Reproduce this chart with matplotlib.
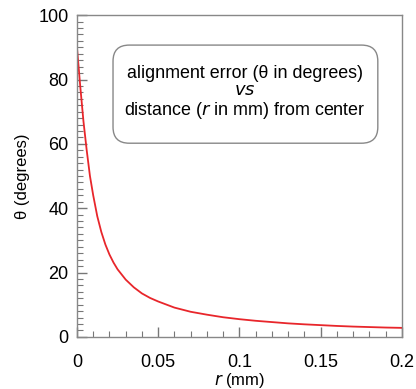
import matplotlib
matplotlib.use("Agg")
import matplotlib.pyplot as plt
from matplotlib.ticker import MultipleLocator
from matplotlib.patches import FancyBboxPatch

plt.rcParams['font.family'] = ['Liberation Sans', 'DejaVu Sans']

r_mm = [0, 0.001, 0.002, 0.003, 0.004, 0.005, 0.006, 0.007, 0.008, 0.009,
        0.010, 0.0125, 0.015, 0.0175, 0.020, 0.0225, 0.025, 0.030, 0.035,
        0.040, 0.045, 0.050, 0.060, 0.070, 0.080, 0.090, 0.100, 0.110,
        0.120, 0.130, 0.140, 0.150, 0.160, 0.170, 0.180, 0.190, 0.200]
theta_deg = [90, 84, 78, 72.5, 67, 62.5, 58, 54, 50, 47,
             44, 37.5, 32.6, 28.7, 25.6, 23.1, 21.0, 17.8, 15.4,
             13.5, 12.1, 11.0, 9.1, 7.8, 6.9, 6.1, 5.5, 5.0,
             4.6, 4.2, 3.9, 3.65, 3.4, 3.2, 3.05, 2.9, 2.8]

xticks = [0, 0.05, 0.1, 0.15, 0.2]
xticklabels = ['0', '0.05', '0.1', '0.15', '0.2']
yticks = [0, 20, 40, 60, 80, 100]
box_text = "alignment error (\u03b8 in degrees)\n$\\it{vs}$\ndistance ($\\it{r}$ in mm) from center"

fig = plt.figure(figsize=(4.16, 3.89), dpi=100)
ax = fig.add_axes([0.185, 0.134, 0.781, 0.827])
ax.plot(r_mm, theta_deg, color='#e8262b', lw=1.3)
ax.set_xlim(0, 0.2)
ax.set_ylim(0, 100)
ax.set_xticks(xticks)
ax.set_xticklabels(xticklabels)
ax.set_yticks(yticks)
ax.xaxis.set_minor_locator(MultipleLocator(0.01))
ax.yaxis.set_minor_locator(MultipleLocator(2))
ax.tick_params(which='both', direction='in', color='#777777', labelsize=13,
               labelcolor='#000000')
ax.tick_params(which='major', length=7, width=1)
ax.tick_params(which='minor', length=4, width=0.8)
ax.tick_params(axis='x', pad=12)
ax.tick_params(axis='y', pad=6)
for s in ax.spines.values():
    s.set_color('#888888')
    s.set_linewidth(1.0)
ax.set_xlabel('$\\it{r}$ (mm)', fontsize=12, labelpad=0, color='#000000')
ax.set_ylabel('\u03b8 (degrees)', fontsize=12, labelpad=6, color='#000000')

box = FancyBboxPatch((0.111, 0.602), 0.815, 0.305, transform=ax.transAxes,
                     boxstyle='round,pad=0,rounding_size=0.05',
                     fc='white', ec='#888888', lw=1.0, mutation_aspect=1.0)
ax.add_patch(box)
ax.text(0.517, 0.758, box_text, transform=ax.transAxes, ha='center', va='center',
        fontsize=12.9, linespacing=1.05, color='#000000')

fig.savefig('out.png', dpi=100)
